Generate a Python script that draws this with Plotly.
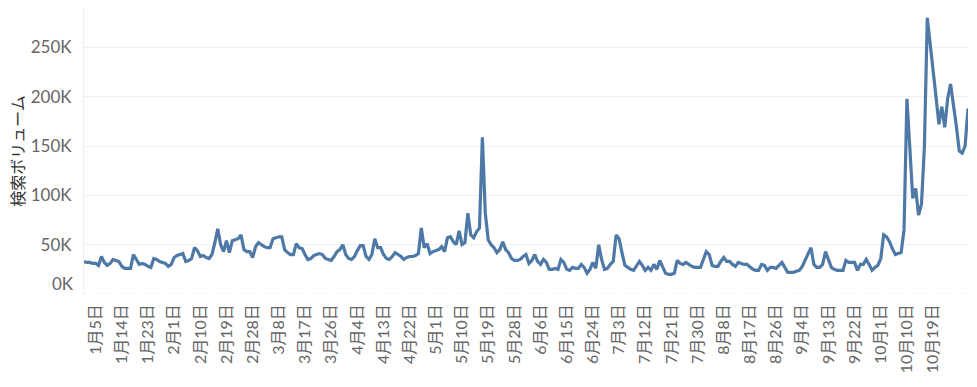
import datetime as dt
import plotly.graph_objects as go

# Daily search volume (thousands), 2020-01-01 .. 2020-10-31
start_date = "2020-01-01"
volume_k = [
    33, 32, 32, 31, 31, 29, 38, 32, 29, 31,
    35, 34, 33, 28, 26, 26, 26, 40, 35, 30,
    31, 30, 28, 27, 36, 35, 33, 32, 31, 28,
    30, 37, 39, 40, 41, 33, 34, 36, 47, 44,
    38, 39, 37, 36, 40, 52, 66, 50, 43, 54,
    42, 54, 55, 56, 60, 45, 43, 43, 37, 48,
    52, 50, 48, 47, 47, 56, 57, 58, 58, 45,
    42, 40, 40, 51, 47, 46, 40, 35, 36, 39,
    40, 41, 40, 36, 35, 34, 38, 43, 45, 50,
    40, 36, 35, 38, 44, 49, 49, 38, 35, 40,
    56, 47, 47, 40, 36, 35, 38, 42, 40, 38,
    35, 37, 38, 38, 39, 41, 67, 47, 51, 41,
    43, 44, 45, 48, 43, 57, 58, 53, 50, 64,
    50, 52, 82, 60, 57, 63, 67, 159, 82, 55,
    50, 47, 42, 45, 53, 45, 42, 36, 34, 34,
    35, 38, 40, 31, 34, 40, 33, 30, 35, 32,
    25, 25, 26, 25, 35, 32, 25, 24, 27, 26,
    26, 30, 27, 21, 25, 32, 26, 50, 35, 25,
    26, 30, 33, 60, 56, 42, 29, 27, 25, 24,
    28, 33, 29, 24, 27, 24, 30, 25, 34, 28,
    21, 20, 20, 21, 34, 31, 30, 32, 30, 28,
    27, 27, 27, 35, 43, 40, 29, 28, 28, 33,
    37, 33, 33, 30, 28, 32, 31, 30, 30, 27,
    25, 24, 24, 30, 29, 24, 27, 27, 26, 29,
    32, 27, 22, 22, 22, 23, 24, 28, 35, 40,
    47, 30, 27, 27, 30, 43, 36, 27, 25, 24,
    24, 24, 34, 32, 32, 32, 24, 30, 30, 35,
    30, 24, 27, 29, 36, 60, 58, 53, 46, 40,
    41, 42, 65, 198, 148, 97, 107, 80, 91, 149,
    280, 255, 230, 200, 172, 190, 169, 198, 213, 194,
    170, 145, 143, 150, 188,
]

tick_labels = [
    "1月5日", "1月14日", "1月23日", "2月1日", "2月10日", "2月19日", "2月28日",
    "3月8日", "3月17日", "3月26日", "4月4日", "4月13日", "4月22日", "5月1日",
    "5月10日", "5月19日", "5月28日", "6月6日", "6月15日", "6月24日", "7月3日",
    "7月12日", "7月21日", "7月30日", "8月8日", "8月17日", "8月26日", "9月4日",
    "9月13日", "9月22日", "10月1日", "10月10日", "10月19日",
]
y_tick_vals = [50000, 100000, 150000, 200000, 250000]
y_tick_text = ["50K", "100K", "150K", "200K", "250K"]

d0 = dt.date.fromisoformat(start_date)
dates = [d0 + dt.timedelta(days=i) for i in range(len(volume_k))]
values = [v * 1000 for v in volume_k]
tick_dates = [dt.date(2020, 1, 5) + dt.timedelta(days=9 * i) for i in range(len(tick_labels))]

FONT = "Lato, 'Noto Sans CJK JP', sans-serif"

fig = go.Figure()
fig.add_trace(go.Scatter(
    x=dates, y=values, mode="lines",
    line=dict(color="#4e79a7", width=3.2),
    hoverinfo="x+y",
))

# page body has an 8px default margin, so the figure is sized 8px smaller
fig.update_layout(
    width=969, height=379,
    margin=dict(l=74, r=9, t=0, b=93),
    paper_bgcolor="white", plot_bgcolor="white",
    showlegend=False,
    font=dict(family=FONT, color="#666666"),
    xaxis=dict(
        range=[dates[0], dates[-1]],
        tickmode="array", tickvals=tick_dates, ticktext=tick_labels,
        tickangle=-90, ticks="", ticklabelstandoff=6,
        tickfont=dict(size=16, color="#666666", family=FONT),
        showgrid=False, zeroline=False, showline=False,
    ),
    yaxis=dict(
        range=[0, 290000],
        tickmode="array", tickvals=y_tick_vals, ticktext=y_tick_text,
        ticks="", ticklabelstandoff=8,
        tickfont=dict(size=17, color="#666666", family=FONT),
        showgrid=True, gridcolor="#f0f0f0", gridwidth=1,
        zeroline=False, showline=True, linecolor="#eeeeee", linewidth=1,
        title=dict(text="検索ボリューム", standoff=12,
                   font=dict(size=16, color="#333333", family=FONT)),
    ),
    annotations=[dict(
        text="0K", xref="paper", yref="y", x=0, y=0,
        xanchor="right", yanchor="middle", xshift=-8, yshift=11,
        showarrow=False, font=dict(size=17, color="#666666", family=FONT),
    )],
    shapes=[dict(
        type="line", xref="paper", yref="y", x0=0, x1=1, y0=0, y1=0,
        line=dict(color="#e6e6e6", width=1, dash="dot"),
    )],
)

fig.write_html("out.html")
